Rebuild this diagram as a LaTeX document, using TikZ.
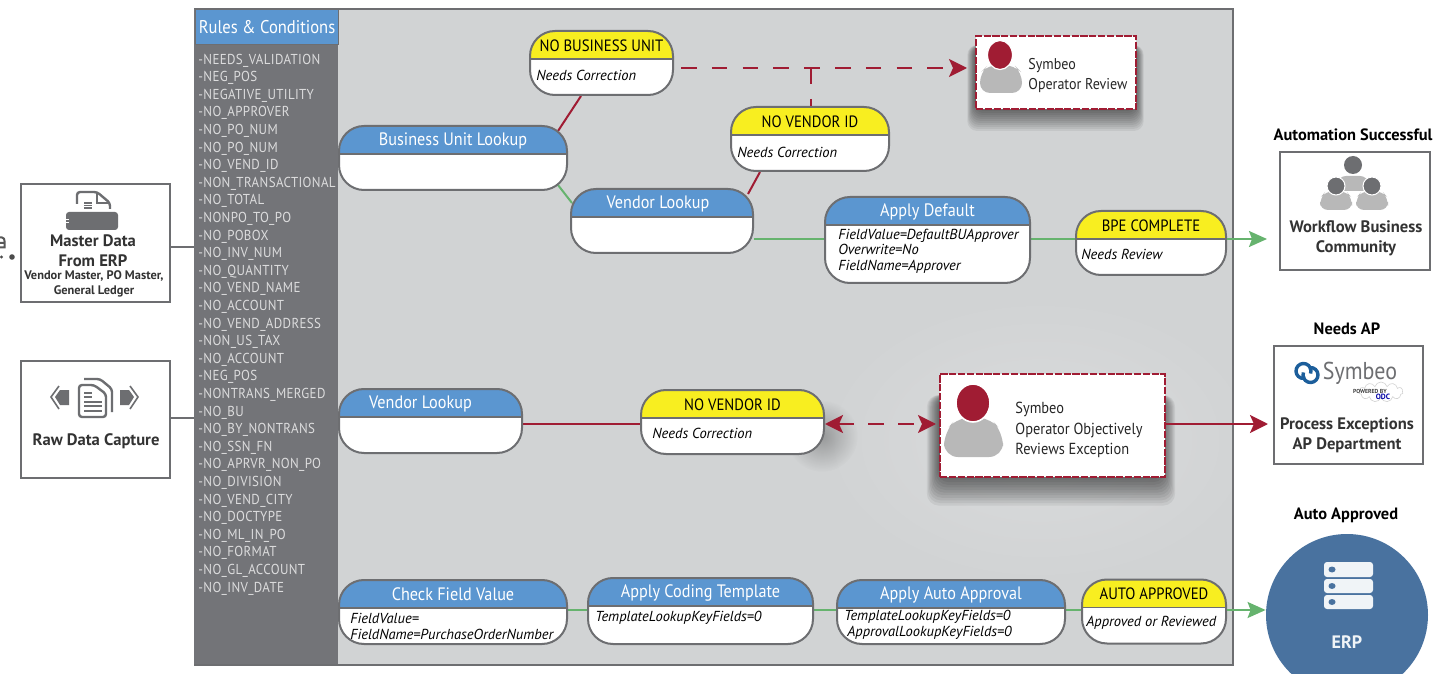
\documentclass[tikz,border=0pt]{standalone}
\usepackage{fontspec}
\usepackage{xcolor}
\usepackage{tikz}
\usetikzlibrary{arrows.meta,shapes,shapes.symbols,backgrounds,fadings}
\setmainfont{PT Sans}
\newfontfamily\narrowfont{PT Sans}[FakeStretch=.9]

\definecolor{panelgrey}{HTML}{D1D3D4}
\definecolor{sidegrey}{HTML}{737478}
\definecolor{linegrey}{HTML}{6D6E71}
\definecolor{headblue}{HTML}{5B96D0}
\definecolor{headyellow}{HTML}{F8EE20}
\definecolor{linkred}{HTML}{A01C33}
\definecolor{linkgreen}{HTML}{66B36E}
\definecolor{bodygrey}{HTML}{B8B8B8}
\definecolor{erpblue}{HTML}{49729F}
\definecolor{logoblue}{HTML}{1C5E9B}

\tikzfading[name=softspot, inner color=transparent!0, outer color=transparent!100]

\pgfdeclarelayer{links}
\pgfsetlayers{background,links,main}

\begin{document}
\begin{tikzpicture}[x=.5pt,y=-.5pt]
      \tikzstyle{pill}=[draw=linegrey, line width=1pt, fill=white, rounded corners=12.5pt, anchor=north west, minimum height=32pt, inner sep=0pt]
      \tikzstyle{lookup}=[pill, path picture={\fill[headblue, sharp corners] (path picture bounding box.north west) rectangle ([yshift=-14pt]path picture bounding box.north east);
          \draw[linegrey, line width=.8pt, sharp corners] ([yshift=-14pt]path picture bounding box.north west) -- ([yshift=-14pt]path picture bounding box.north east);}]
      \tikzstyle{status}=[pill, path picture={\fill[headyellow, sharp corners] (path picture bounding box.north west) rectangle ([yshift=-14pt]path picture bounding box.north east);
          \draw[linegrey, line width=.8pt, sharp corners] ([yshift=-14pt]path picture bounding box.north west) -- ([yshift=-14pt]path picture bounding box.north east);}]
      \tikzstyle{lookup_text}=[yshift=-7.8pt, text=white, font=\fontsize{9}{10}\narrowfont]
      \tikzstyle{status_text}=[yshift=-7.8pt, text=black, font=\fontsize{8.2}{10}\narrowfont]
      \tikzstyle{body_text}=[anchor=west, inner sep=0pt, font=\fontsize{7.25}{7.7}\selectfont\itshape, align=left]
      \tikzstyle{source}=[draw=linegrey, line width=1pt, fill=white, anchor=north west, inner sep=0pt]
      \tikzstyle{source_text}=[font=\fontsize{8.3}{9.8}\selectfont\bfseries, text=black!80, align=center]
      \tikzstyle{group_title}=[font=\fontsize{8.2}{9}\selectfont\bfseries, text=black]
      \tikzstyle{review}=[draw=linkred, line width=1.1pt, dash pattern=on 3.6pt off .8pt, fill=white, anchor=north west, inner sep=0pt]
      \tikzstyle{review_text}=[anchor=west, inner sep=0pt, text=black!85, font=\fontsize{8}{10.4}\narrowfont, align=left]
      \tikzstyle{rule_text}=[anchor=west, inner sep=0pt, text=white!75!sidegrey, font=\fontsize{7.2}{8}\narrowfont\addfontfeature{LetterSpace=2.5}]
      \tikzstyle{red_link}=[draw=linkred, line width=1pt]
      \tikzstyle{green_link}=[draw=linkgreen, line width=1pt]
      \tikzstyle{red_dash}=[red_link, dash pattern=on 7.8pt off 7.6pt]
      \tikzstyle{red_tip}=[-{Stealth[length=9pt,width=9pt,inset=2pt]}]
      \tikzstyle{green_tip}=[-{Stealth[length=9pt,width=8pt,inset=1.5pt]}]
      \tikzstyle{icon}=[fill=linegrey, draw=none]

      \useasboundingbox (0,0) rectangle (1448,674);

      % panel and rule list
      \begin{scope}[on background layer]
        \node (panel) [draw=linegrey, line width=1pt, fill=panelgrey, anchor=north west, minimum width=519pt, minimum height=328pt, inner sep=0pt] at (194,8) {};
        \node (sidebar) [fill=sidegrey, anchor=north west, minimum width=72pt, minimum height=327.5pt, inner sep=0pt] at (194,8.5) {};
      \end{scope}
      \node (rules) [draw=linegrey, line width=.6pt, fill=headblue, anchor=north west, minimum width=71.5pt, minimum height=17.5pt, inner sep=0pt, text=white, font=\fontsize{9.2}{10}\narrowfont] at (195,9) {Rules \& Conditions};
      \foreach \rulename [count=\i from 0] in {NEEDS\_VALIDATION,NEG\_POS,NEGATIVE\_UTILITY,NO\_APPROVER,NO\_PO\_NUM,NO\_PO\_NUM,NO\_VEND\_ID,NON\_TRANSACTIONAL,NO\_TOTAL,NONPO\_TO\_PO,NO\_POBOX,NO\_INV\_NUM,NO\_QUANTITY,NO\_VEND\_NAME,NO\_ACCOUNT,NO\_VEND\_ADDRESS,NON\_US\_TAX,NO\_ACCOUNT,NEG\_POS,NONTRANS\_MERGED,NO\_BU,NO\_BY\_NONTRANS,NO\_SSN\_FN,NO\_APRVR\_NON\_PO,NO\_DIVISION,NO\_VEND\_CITY,NO\_DOCTYPE,NO\_ML\_IN\_PO,NO\_FORMAT,NO\_GL\_ACCOUNT,NO\_INV\_DATE}
        \node (rule\i) [rule_text] at (198,60.5+17.6*\i) {-\rulename};

      % glow and shadows behind the review boxes
      \begin{pgfonlayer}{links}
        \fill[white, fill opacity=.2, path fading=softspot] (1040,440) ellipse (230 and 150);
        \fill[black, fill opacity=.28, path fading=softspot] (822,436) ellipse (36 and 36);
        \foreach \k in {0,...,11} {
          \fill[black, opacity=.06, rounded corners=5pt] (975-\k*.7,45) rectangle (1136+\k*.7,109+\k*2);
          \fill[black, opacity=.06, rounded corners=6pt] (939-\k*1.1,395) rectangle (1163+\k*1.1,477+\k*2.6);
        }
      \end{pgfonlayer}

      % top row
      \node [lookup, minimum width=114pt] (bulookup) at (338,125) {};
      \node at (bulookup.north) [lookup_text] {Business Unit Lookup};
      \node [status, minimum width=71.5pt] (nobu) at (529,30) {};
      \node at (nobu.north) [status_text] {NO BUSINESS UNIT};
      \node [body_text] (nobu_body) at (536,75) {Needs Correction};
      \node [status, minimum width=79pt] (novend) at (730,106) {};
      \node at (novend.north) [status_text] {NO VENDOR ID};
      \node [body_text] (novend_body) at (737,152) {Needs Correction};
      \node [lookup, minimum width=91pt] (vendlookup) at (570,188) {};
      \node at (vendlookup.north) [lookup_text, xshift=-2pt] {Vendor Lookup};
      \node [lookup, minimum width=102.5pt, minimum height=43pt] (applydef) at (824,196) {};
      \node at (applydef.north) [lookup_text] {Apply Default};
      \node [body_text] (applydef_body) at (838,251) {FieldValue=DefaultBUApprover\\Overwrite=No\\FieldName=Approver};
      \node [status, minimum width=75pt] (bpe) at (1075,210) {};
      \node at (bpe.north) [status_text] {BPE COMPLETE};
      \node [body_text] (bpe_body) at (1081,254) {Needs Review};
      \node [review, minimum width=80pt, minimum height=36.5pt] (oper1) at (975,35) {};
      \node [review_text, font=\fontsize{7.8}{10}\narrowfont] (oper1_text) at (1028,76) {Symbeo\\Operator Review};
      \fill[bodygrey, rounded corners=5pt] (980,93) -- (980,73) -- (988,65) -- (1014,65) -- (1022,73) -- (1022,93) -- cycle;
      \draw[fill=linkred, draw=white, line width=.6pt] (1000,55) ellipse (12.5 and 14.5);

      % middle row
      \node [lookup, minimum width=91.5pt] (vendlookup2) at (338,388) {};
      \node at (vendlookup2.north) [lookup_text, xshift=-5pt] {Vendor Lookup};
      \node [status, minimum width=91.5pt] (novend2) at (640,389) {};
      \node at (novend2.north) [status_text] {NO VENDOR ID};
      \node [body_text] (novend2_body) at (652,433) {Needs Correction};
      \node [review, minimum width=112.5pt, minimum height=51.5pt] (oper2) at (939,373) {};
      \node [review_text] (oper2_text) at (1015,430) {Symbeo\\Operator Objectively\\Reviews Exception};
      \fill[bodygrey, rounded corners=7pt] (944,457) -- (944,432) -- (958,417) -- (989,417) -- (1003,432) -- (1003,457) -- cycle;
      \draw[fill=linkred, draw=white, line width=.8pt] (973,403) ellipse (17 and 19);

      % bottom row
      \node [lookup, minimum width=114pt] (checkfield) at (338,579) {};
      \node at (checkfield.north) [lookup_text] {Check Field Value};
      \node [body_text] (checkfield_body) at (350,626.5) {FieldValue=\\FieldName=PurchaseOrderNumber};
      \node [lookup, minimum width=112.5pt, minimum height=33pt] (coding) at (587,577) {};
      \node at (coding.north) [lookup_text] {Apply Coding Template};
      \node [body_text] (coding_body) at (595,618) {TemplateLookupKeyFields=0};
      \node [lookup, minimum width=114pt] (autoappr) at (836,579) {};
      \node at (autoappr.north) [lookup_text] {Apply Auto Approval};
      \node [body_text] (autoappr_body) at (844,625) {TemplateLookupKeyFields=0\\\hspace*{1.5pt}ApprovalLookupKeyFields=0};
      \node [status, minimum width=72pt] (autodone) at (1081,578.5) {};
      \node at (autodone.north) [status_text] {AUTO APPROVED};
      \node [body_text] (autodone_body) at (1086,623) {Approved or Reviewed};

      % sources on the left
      \node [source, minimum width=74.5pt, minimum height=59pt] (master) at (20,183) {};
      \node [source_text] (master_a) at (93,251) {Master Data\\From ERP};
      \node [source_text, font=\fontsize{6.2}{7.4}\selectfont\bfseries] (master_b) at (94,283.5) {Vendor Master, PO Master,\\General Ledger};
      \node [source, minimum width=74.5pt, minimum height=58.5pt] (rawdata) at (20,360) {};
      \node [source_text] (rawdata_a) at (96,441) {Raw Data Capture};
      % master data icon
      \draw[linegrey, line width=1.2pt, rounded corners=1.5pt] (77,204) -- (77,192) -- (97,192) -- (110,203) -- (110,209);
      \draw[linegrey, line width=.8pt] (97,192) -- (97,203) -- (110,203);
      \draw[linegrey, line width=.7pt] (84,203) -- (92,203) (84,205.5) -- (92,205.5) (84,208) -- (92,208);
      \fill[icon, rounded corners=1.5pt] (66,212) rectangle (118,230);
      \draw[white, line width=.4pt] (66,219.5) -- (69,219.5) (66,222.5) -- (69,222.5);
      % raw data icon
      \draw[linegrey, line width=1.2pt, rounded corners=1.5pt] (84,379) -- (100,379) -- (112,389) -- (112,412);
      \draw[linegrey, line width=1.2pt, fill=white, rounded corners=1.5pt] (79,385) -- (94,385) -- (106,394) -- (106,417) -- (79,417) -- cycle;
      \draw[linegrey, line width=.8pt] (84,393) -- (92,393) (84,397) -- (92,397) (84,402) -- (102,402) (84,406) -- (102,406) (84,411) -- (102,411);
      \fill[icon] (69,390) -- (60,390) -- (55,397) -- (60,405) -- (69,405) -- cycle;
      \fill[icon] (120,390) -- (129,390) -- (134,397) -- (129,405) -- (120,405) -- cycle;
      \draw[linegrey, line width=.8pt] (59,386) -- (51,397) -- (59,409) (130,386) -- (138,397) -- (130,409);

      % results on the right
      \node [group_title] (res1_title) at (1353,135) {Automation Successful};
      \node [source, minimum width=75pt, minimum height=59pt] (workflow) at (1279,151) {};
      \node [source_text] (workflow_a) at (1356,238) {Workflow Business\\Community};
      \fill[bodygrey, rounded corners=4pt] (1336,191) -- (1338,176) -- (1368,176) -- (1370,191) -- cycle;
      \fill[icon] (1353,165) circle (9);
      \foreach \px in {1336,1372} {
        \fill[bodygrey, rounded corners=4pt] (\px-16,210) -- (\px-16,198) -- (\px-10,191) -- (\px+10,191) -- (\px+16,198) -- (\px+16,210) -- cycle;
        \draw[icon, draw=white, line width=.5pt] (\px,186) circle (9);
      }
      \node [group_title] (res2_title) at (1347,329) {Needs AP};
      \node [source, minimum width=74.5pt, minimum height=59pt] (apdept) at (1273,345) {};
      \node [source_text] (apdept_a) at (1347,435) {Process Exceptions\\AP Department};
      % logo
      \draw[logoblue, line width=1.7pt] (1303.5,371) ++(20:7.5) arc (20:-285:7.5);
      \draw[logoblue, line width=1.7pt] (1310.5,375) ++(200:7.5) arc (200:-105:7.5);
      \node (logotext) [text=linegrey, inner sep=0pt, font=\fontsize{12.2}{13}\narrowfont] at (1360,373) {Symbeo};
      \node (cloudmark) [cloud, draw=gray!35, line width=.3pt, cloud puffs=11, minimum width=22pt, minimum height=10pt, inner sep=0pt] at (1381,392) {};
      \node (poweredby) [inner sep=0pt, text=black!75, font=\fontsize{2.9}{3}\selectfont\bfseries] at (1370,391) {POWERED BY};
      \node (odc) [inner sep=0pt, text=blue!65!black, font=\fontsize{3.8}{4}\selectfont\bfseries] at (1383,397) {ODC};
      \node [group_title] (res3_title) at (1346,515) {Auto Approved};
      \node (erp) [circle, fill=erpblue, minimum size=81pt, inner sep=0pt] at (1347,615) {};
      \node (erp_text) [text=white!92!erpblue, font=\fontsize{9}{10}\selectfont\bfseries] at (1347,642) {ERP};
      \foreach \sy/\sb in {562/577,579/593,595/609} {
        \fill[white!92!erpblue, rounded corners=1.5pt] (1324,\sy) rectangle (1373,\sb);
        \fill[erpblue] (1332,{(\sy+\sb)/2}) ellipse (3.5 and 3);
      }

      % fragment running off the left edge
      \draw[black!65, line width=1pt] (0,237.5) -- (2,237.5) .. controls (4,237.5) and (4.5,239.5) .. (4.5,241) -- (4.5,247.5) -- (0,247.5) (0,243) -- (4.5,243);
      \fill[black!70] (12,257) circle (2.8);
      \fill[black!70] (1.5,257) circle (1.6);

      % connectors
      \begin{pgfonlayer}{links}
        \draw [linegrey, line width=1pt] (master.east |- 0,247) -- (sidebar.west |- 0,247);
        \draw [linegrey, line width=1pt] (rawdata.east |- 0,418) -- (sidebar.west |- 0,418);
        \draw [red_link] ([xshift=26pt]nobu.south west) -- ([xshift=-5pt,yshift=-3pt]bulookup.north east);
        \draw [green_link] ([xshift=-5pt,yshift=3pt]bulookup.south east) -- ([xshift=1pt,yshift=9pt]vendlookup.west);
        \draw [red_link] ([xshift=15pt]novend.south west) -- ([xshift=-3pt,yshift=-3pt]vendlookup.north east);
        \draw [green_link] (vendlookup.east |- 0,239) -- (applydef.west |- 0,239);
        \draw [green_link] (applydef.east |- 0,239) -- (bpe.west |- 0,239);
        \draw [red_link] (vendlookup2.east |- 0,424) -- (novend2.west |- 0,424);
        \draw [green_link] (checkfield.east |- 0,610) -- (coding.west |- 0,610);
        \draw [green_link] (coding.east |- 0,610) -- (autoappr.west |- 0,610);
        \draw [green_link] (autoappr.east |- 0,610) -- (autodone.west |- 0,610);
      \end{pgfonlayer}
      \draw [red_dash, red_tip] ([xshift=3.5pt]nobu.east |- 0,68) -- ([xshift=-4pt]oper1.west |- 0,68);
      \draw [red_dash] (811,68) -- (novend.north -| 811,0);
      \draw [red_link, dash pattern=on 8pt off 7pt, {Stealth[length=9pt,width=9pt,inset=2pt]}-{Stealth[length=9pt,width=9pt,inset=2pt]}] (novend2.east |- 0,424) -- ([xshift=-1.5pt]oper2.west |- 0,424);
      \draw [red_link, red_tip, line width=1.2pt] (oper2.east |- 0,424) -- ([xshift=-2.5pt]apdept.west |- 0,424);
      \draw [green_link, green_tip] (bpe.east |- 0,239) -- ([xshift=-6pt]workflow.west |- 0,239);
      \draw [green_link, green_tip] (autodone.east |- 0,610) -- (erp.west |- 0,610);
    \end{tikzpicture}
\end{document}
